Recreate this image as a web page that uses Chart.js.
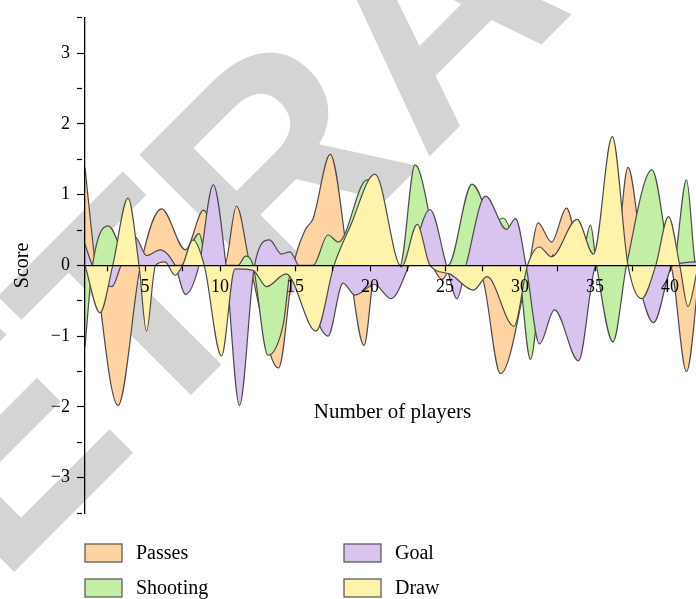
<!DOCTYPE html>
<html>
<head>
<meta charset="utf-8">
<script src="https://cdn.jsdelivr.net/npm/chart.js@4.4.1/dist/chart.umd.min.js"></script>
<style>
  html, body { margin: 0; padding: 0; overflow: hidden; background: #fff; }
  #wrap { position: relative; width: 704px; height: 599px; }
</style>
</head>
<body>
<div id="wrap"><canvas id="c" width="704" height="599"></canvas></div>
<script>
// Series names, in legend order
const seriesNames = ['Passes', 'Shooting', 'Goal', 'Draw'];

// Passes
const passesX = [1, 1.7, 3.2, 4.7, 6.1, 7.7, 8.9, 10.3, 11.1, 12.0, 13.9, 14.9, 15.7, 16.2, 17.35, 18.6, 19.6, 20.4, 24.0, 24.8, 25.5, 26.5, 27.5, 28.7, 30.6, 31.2, 32.1, 33.1, 34.2, 36.3, 37.2, 38.4, 40.0, 41.1, 42];
const passesY = [1.38, 0, -1.98, 0, 0.80, 0.22, 0.78, 0, 0.84, 0, -1.45, 0, 0.51, 0.66, 1.57, 0, -1.13, 0, 0, -0.2, 0, 0, -0.18, -1.53, 0, 0.60, 0.33, 0.81, 0, 0, 1.385, 0, 0, -1.50, 0];

// Shooting
const shootingX = [1, 1.5, 2.55, 4.0, 7.4, 8.6, 9.2, 11.2, 11.7, 12.2, 13.2, 14.2, 14.8, 16.2, 17.2, 17.9, 19.8, 22.0, 23.0, 24.9, 25.2, 26.8, 28.3, 28.85, 29.9, 30.7, 31.6, 31.9, 32.2, 32.5, 34.0, 34.7, 35.1, 36.2, 37.1, 38.8, 40.2, 41.1, 41.7, 42];
const shootingY = [-1.15, 0, 0.56, 0, 0, 0.45, 0, 0, 0.13, 0, -1.27, -0.85, 0, 0, 0.43, 0.33, 1.21, 0, 1.42, 0, 0, 1.15, 0.6, 0.67, 0, -1.33, 0, 0, 0.15, 0, 0, 0.57, 0, -1.08, 0, 1.35, 0, 1.21, 0, -0.1];

// Goal
const goalX = [1, 1.5, 2.8, 3.4, 4.35, 5.1, 6.0, 7.0, 7.7, 8.6, 9.55, 10.4, 11.3, 12.3, 13.3, 14.1, 14.65, 15.2, 17.2, 18.2, 19.0, 20.3, 21.4, 22.6, 24.0, 25.1, 25.8, 26.4, 27.7, 29.1, 29.7, 30.4, 31.3, 32.3, 33.9, 35.1, 37.3, 38.9, 40.2, 42];
const goalY = [0.3, 0, -0.3, 0, 0.4, 0.14, 0.22, 0, -0.41, 0, 1.14, 0, -1.98, 0, 0.36, 0.16, 0.19, 0, -1.0, -0.25, -0.42, -0.27, -0.47, 0, 0.79, 0, -0.47, 0, 0.98, 0.51, 0.66, 0, -1.11, -0.63, -1.35, 0, 0, -0.81, 0, 0.05];

// Draw
const drawX = [1, 2.0, 2.85, 3.87, 4.6, 5.1, 5.7, 6.33, 7.0, 7.5, 8.2, 8.95, 10.1, 11.0, 12.2, 13.1, 14.4, 16.4, 17.6, 18.7, 20.33, 22.1, 23.15, 24.0, 25.3, 26.9, 27.8, 29.6, 30.5, 31.3, 32.1, 33.8, 34.9, 36.15, 37.2, 38.1, 39.05, 39.9, 40.65, 41.2, 41.9, 42];
const drawY = [0, -0.67, 0, 0.95, 0, -0.93, 0, 0.05, -0.14, 0, 0.36, 0, -1.28, -0.05, -0.07, -0.3, -0.12, -0.93, 0, 0.56, 1.29, -0.02, 0.58, 0, -0.12, -0.35, -0.16, -0.86, 0, 0.26, 0.12, 0.65, 0.16, 1.82, 0, -0.47, 0, 0.69, 0, -0.58, 0, 0.05];

// Axis ticks
const xTickValues = [2.5, 5, 7.5, 10, 12.5, 15, 17.5, 20, 22.5, 25, 27.5, 30, 32.5, 35, 37.5, 40];
const xTickLabels = ['', '5', '', '10', '', '15', '', '20', '', '25', '', '30', '', '35', '', '40'];
const yTickValues = [-3.5, -3, -2.5, -2, -1.5, -1, -0.5, 0, 0.5, 1, 1.5, 2, 2.5, 3, 3.5];
const yTickLabels = ['', '\u22123', '', '\u22122', '', '\u22121', '', '0', '', '1', '', '2', '', '3', ''];

// Styling
const fillColors = ['#FFD3A2', '#C2EEA6', '#D9C3EF', '#FFF3AC'];
const outline = '#4a4a4a';
const serif = "'Liberation Serif', 'Times New Roman', serif";

const toPoints = (xs, ys) => xs.map((x, i) => ({ x: x, y: ys[i] }));
const seriesPoints = [
  toPoints(passesX, passesY),
  toPoints(shootingX, shootingY),
  toPoints(goalX, goalY),
  toPoints(drawX, drawY)
];

// Passes at the back, Draw in front
const datasets = seriesNames.map((name, i) => ({
  label: name,
  data: seriesPoints[i],
  backgroundColor: fillColors[i],
  borderColor: outline,
  borderWidth: 1.2,
  fill: 'origin',
  order: seriesNames.length - i,
  pointRadius: 0,
  cubicInterpolationMode: 'monotone'
}));

// Grey diagonal "RETRACTED" stamp behind the plot; anchored on its second R
const stamp = {
  id: 'stamp',
  beforeDraw(chart) {
    const ctx = chart.ctx;
    ctx.save();
    ctx.font = "bold 300px 'Liberation Sans', Arial, sans-serif";
    const lead = ctx.measureText('RET').width;
    ctx.translate(271, 315);
    ctx.rotate(-Math.PI / 4);
    ctx.fillStyle = '#d4d4d4';
    ctx.textBaseline = 'alphabetic';
    ctx.textAlign = 'left';
    ctx.fillText('RETRACTED', -lead, 0);
    ctx.restore();
  }
};

// Horizontal axis title, placed below the plotted band
const xTitle = {
  id: 'xTitle',
  afterDraw(chart) {
    const ctx = chart.ctx;
    const area = chart.chartArea;
    ctx.save();
    ctx.font = '21px ' + serif;
    ctx.fillStyle = '#000';
    ctx.textAlign = 'center';
    ctx.textBaseline = 'alphabetic';
    ctx.fillText('Number of players', (area.left + area.right) / 2, 418);
    ctx.restore();
  }
};

// Two-column legend under the axes
const boxLegend = {
  id: 'boxLegend',
  afterDraw(chart) {
    const ctx = chart.ctx;
    const colX = [85, 344];
    const rowY = [544, 579];
    ctx.save();
    ctx.font = '20px ' + serif;
    ctx.textBaseline = 'alphabetic';
    ctx.textAlign = 'left';
    chart.data.datasets.forEach((ds, i) => {
      const x = colX[Math.floor(i / 2)];
      const y = rowY[i % 2];
      ctx.fillStyle = ds.backgroundColor;
      ctx.fillRect(x, y, 37, 18);
      ctx.strokeStyle = '#5c5c5c';
      ctx.lineWidth = 1.3;
      ctx.strokeRect(x, y, 37, 18);
      ctx.fillStyle = '#000';
      ctx.fillText(ds.label, x + 51, y + 14.5);
    });
    ctx.restore();
  }
};

new Chart(document.getElementById('c'), {
  type: 'line',
  data: { datasets: datasets },
  options: {
    responsive: false,
    animation: false,
    devicePixelRatio: 1,
    layout: { padding: { top: 13, left: 0, right: 4, bottom: 86 } },
    plugins: {
      legend: { display: false },
      tooltip: { enabled: false },
      filler: { propagate: false }
    },
    scales: {
      x: {
        type: 'linear',
        min: 1,
        max: 42,
        position: { y: 0 },
        afterBuildTicks: (scale) => { scale.ticks = xTickValues.map(v => ({ value: v })); },
        border: { display: true, color: '#000', width: 1.3, z: 1 },
        grid: { drawOnChartArea: false, drawTicks: true, tickLength: 5, tickColor: '#000', tickWidth: 1.2, z: 1 },
        ticks: {
          autoSkip: false,
          maxRotation: 0,
          padding: 6,
          color: '#000',
          z: 1,
          font: { family: serif, size: 18 },
          callback: (v) => { const k = xTickValues.indexOf(v); return k >= 0 ? xTickLabels[k] : ''; }
        }
      },
      y: {
        type: 'linear',
        min: -3.5,
        max: 3.5,
        position: 'left',
        afterBuildTicks: (scale) => { scale.ticks = yTickValues.map(v => ({ value: v })); },
        afterFit: (scale) => { scale.width = 85; },
        border: { display: true, color: '#000', width: 1.3, z: 1 },
        grid: {
          drawOnChartArea: false,
          drawTicks: true,
          tickLength: 8,
          tickColor: '#000',
          tickWidth: 1.2,
          tickBorderDash: (c) => (c.tick && Number.isInteger(c.tick.value)) ? [] : [5, 20],
          z: 1
        },
        ticks: {
          autoSkip: false,
          padding: 7,
          color: '#000',
          font: { family: serif, size: 18 },
          callback: (v) => { const k = yTickValues.indexOf(v); return k >= 0 ? yTickLabels[k] : ''; }
        },
        title: {
          display: true,
          text: 'Score',
          color: '#000',
          font: { family: serif, size: 20 },
          padding: { top: 11, bottom: 0 }
        }
      }
    }
  },
  plugins: [stamp, xTitle, boxLegend]
});
</script>
</body>
</html>
